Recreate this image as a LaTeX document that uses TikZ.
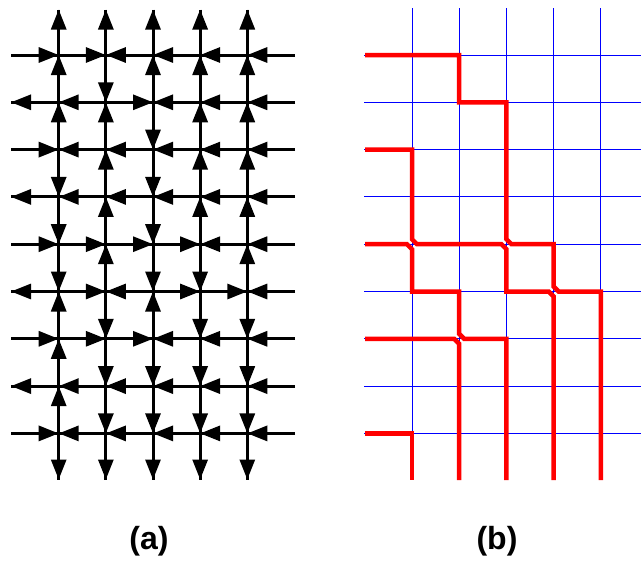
\documentclass[tikz,border=0pt]{standalone}
\usepackage{fontspec}
\setmainfont{Liberation Sans}
\usetikzlibrary{arrows.meta,calc}
\newcommand\hedge[3]{% #1=k  #2=row  #3=dir (1 = right)
  \pgfmathtruncatemacro\kn{#1+1}%
  \ifnum#3=1 \draw[arr] (a-#1-#2) -- (a-\kn-#2);\else\draw[arr] (a-\kn-#2) -- (a-#1-#2);\fi}
\newcommand\vedge[3]{% #1=col  #2=m  #3=dir (1 = down)
  \pgfmathtruncatemacro\mn{#2+1}%
  \ifnum#3=1 \draw[arr] (a-#1-#2) -- (a-#1-\mn);\else\draw[arr] (a-#1-\mn) -- (a-#1-#2);\fi}
\begin{document}
\begin{tikzpicture}[x=1pt,y=-1pt,
  gridline/.style={line width=3pt,black},
  arr/.style={line width=3pt,black,-{Triangle[length=20pt,width=15pt]}},
  blueline/.style={line width=0.9pt,blue},
  redpath/.style={line width=4.5pt,red,line join=miter},
  lab/.style={font=\bfseries\fontsize{32}{32}\selectfont}]
\useasboundingbox (0,0) rectangle (641,563);
% ---------- coordinates of panel (a)
\foreach \j in {0,...,10}{
  \pgfmathsetmacro\yy{\j==0 ? 9.5 : (\j==10 ? 479.5 : 55+47.3*(\j-1))}
  \foreach \i in {0,...,6}{
    \pgfmathsetmacro\xx{\i==0 ? 11 : (\i==6 ? 295 : 58.7+47.15*(\i-1))}
    \coordinate (a-\i-\j) at (\xx,\yy);
  }
}
% ---------- coordinates of panel (b)
\foreach \j in {0,...,10}{
  \pgfmathsetmacro\yy{\j==0 ? 8 : (\j==10 ? 480 : 55+47.3*(\j-1))}
  \foreach \i in {0,...,5}{
    \pgfmathsetmacro\xx{\i==0 ? 365 : 412+47.2*(\i-1)}
    \coordinate (b-\i-\j) at (\xx,\yy);
  }
  \coordinate (bl-\j) at (364,\yy);
  \coordinate (br-\j) at (641,\yy);
}
% ---------- panel (a): lines
\foreach \j in {1,...,9}{\draw[gridline] (a-0-\j) -- (a-6-\j);}
\foreach \i in {1,...,5}{\draw[gridline] (a-\i-0) -- (a-\i-10);}
% horizontal arrows (1 = pointing right)
\foreach \j/\ka/\kb/\kc/\kd/\ke/\kf in {1/1/1/0/0/0/0,2/0/0/1/0/0/0,3/1/0/0/0/0/0,4/0/0/0/0/0/0,
  5/1/1/1/1/0/0,6/0/1/0/1/1/0,7/1/1/1/0/0/0,8/0/0/0/0/0/0,9/1/0/0/0/0/0}{
  \hedge{0}{\j}{\ka}\hedge{1}{\j}{\kb}\hedge{2}{\j}{\kc}
  \hedge{3}{\j}{\kd}\hedge{4}{\j}{\ke}\hedge{5}{\j}{\kf}
}
% vertical arrows (1 = pointing down)
\foreach \i/\ma/\mb/\mc/\md/\me/\mf/\mg/\mh/\mi/\mj in {1/0/0/0/1/1/1/0/0/0/1,2/0/1/0/0/0/0/1/1/1/1,
  3/0/0/1/1/1/1/0/1/1/1,4/0/0/0/0/0/1/1/1/1/1,5/0/0/0/0/0/0/1/1/1/1}{
  \vedge{\i}{0}{\ma}\vedge{\i}{1}{\mb}\vedge{\i}{2}{\mc}\vedge{\i}{3}{\md}\vedge{\i}{4}{\me}
  \vedge{\i}{5}{\mf}\vedge{\i}{6}{\mg}\vedge{\i}{7}{\mh}\vedge{\i}{8}{\mi}\vedge{\i}{9}{\mj}
}
% ---------- panel (b): blue grid
\foreach \j in {1,...,9}{\draw[blueline] (bl-\j) -- (br-\j);}
\foreach \i in {1,...,5}{\draw[blueline] (b-\i-0) -- (b-\i-10);}
% red paths
\def\d{5}
\draw[redpath] (b-0-1) -- (b-2-1) -- (b-2-2) -- (b-3-2) -- ($(b-3-5)+(0,-\d)$) -- ($(b-3-5)+(\d,0)$)
  -- (b-4-5) -- ($(b-4-6)+(0,-\d)$) -- ($(b-4-6)+(\d,0)$) -- (b-5-6) -- (b-5-10);
\draw[redpath] (b-0-3) -- (b-1-3) -- ($(b-1-5)+(0,-\d)$) -- ($(b-1-5)+(\d,0)$) -- ($(b-3-5)+(-\d,0)$)
  -- ($(b-3-5)+(0,\d)$) -- (b-3-6) -- ($(b-4-6)+(-\d,0)$) -- ($(b-4-6)+(0,\d)$) -- (b-4-10);
\draw[redpath] (b-0-5) -- ($(b-1-5)+(-\d,0)$) -- ($(b-1-5)+(0,\d)$) -- (b-1-6) -- (b-2-6)
  -- ($(b-2-7)+(0,-\d)$) -- ($(b-2-7)+(\d,0)$) -- (b-3-7) -- (b-3-10);
\draw[redpath] (b-0-7) -- ($(b-2-7)+(-\d,0)$) -- ($(b-2-7)+(0,\d)$) -- (b-2-10);
\draw[redpath] (b-0-9) -- (b-1-9) -- (b-1-10);
% labels
\node[lab] (la) at (149,541) {(a)};
\node[lab] (lb) at (497,541) {(b)};
\end{tikzpicture}
\end{document}
